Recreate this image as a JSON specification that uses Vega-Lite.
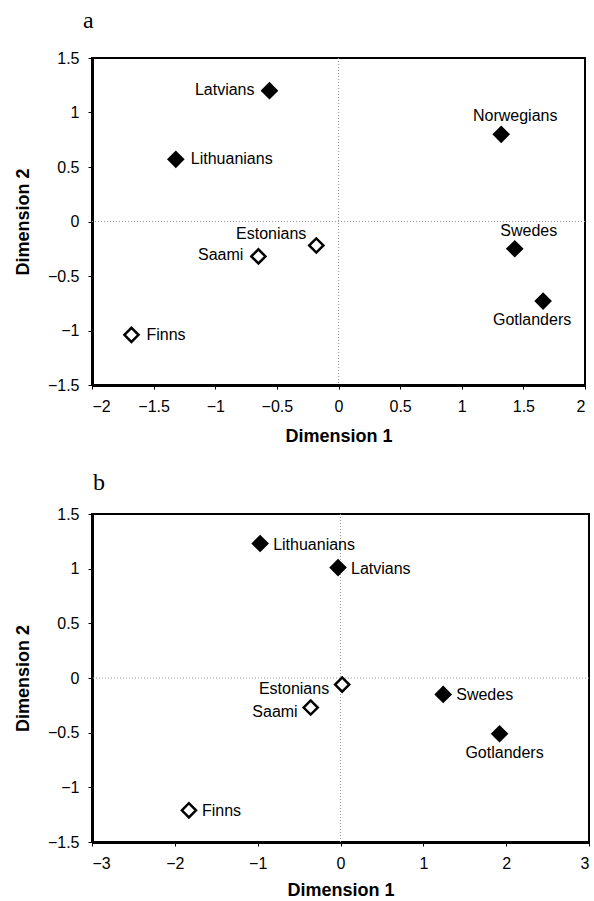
{
  "$schema": "https://vega.github.io/schema/vega-lite/v6.json",
  "padding": {"left": 13, "top": 8, "right": 0, "bottom": 0},
  "background": "white",
  "config": {
    "font": "Liberation Sans",
    "view": {"stroke": "black", "strokeWidth": 2},
    "axis": {"domainColor": "black", "domainWidth": 3, "tickColor": "black", "tickSize": 4, "tickWidth": 1, "labelFont": "Liberation Sans", "labelFontSize": 16, "labelColor": "black", "titleFont": "Liberation Sans", "titleFontSize": 18, "titleFontWeight": "bold", "titleColor": "black", "grid": false, "labelPadding": 9},
    "title": {"font": "Liberation Serif", "fontSize": 24, "fontWeight": "normal", "anchor": "start", "frame": "group", "color": "black"},
    "concat": {"spacing": 24},
    "text": {"font": "Liberation Sans", "fontSize": 16, "color": "black", "baseline": "middle"}
  },
  "datasets": {
    "a": [
      {"name": "Latvians", "d1": -0.56, "d2": 1.2, "group": "filled", "pos": "left"},
      {"name": "Lithuanians", "d1": -1.32, "d2": 0.57, "group": "filled", "pos": "right"},
      {"name": "Norwegians", "d1": 1.32, "d2": 0.8, "group": "filled", "pos": "above"},
      {"name": "Swedes", "d1": 1.43, "d2": -0.25, "group": "filled", "pos": "above"},
      {"name": "Gotlanders", "d1": 1.66, "d2": -0.73, "group": "filled", "pos": "below"},
      {"name": "Estonians", "d1": -0.18, "d2": -0.22, "group": "open", "pos": "aboveleft"},
      {"name": "Saami", "d1": -0.65, "d2": -0.32, "group": "open", "pos": "left"},
      {"name": "Finns", "d1": -1.68, "d2": -1.04, "group": "open", "pos": "right"}
    ],
    "b": [
      {"name": "Lithuanians", "d1": -0.97, "d2": 1.23, "group": "filled", "pos": "right"},
      {"name": "Latvians", "d1": -0.03, "d2": 1.01, "group": "filled", "pos": "right"},
      {"name": "Estonians", "d1": 0.02, "d2": -0.06, "group": "open", "pos": "left"},
      {"name": "Saami", "d1": -0.36, "d2": -0.27, "group": "open", "pos": "left"},
      {"name": "Swedes", "d1": 1.24, "d2": -0.15, "group": "filled", "pos": "right"},
      {"name": "Gotlanders", "d1": 1.92, "d2": -0.51, "group": "filled", "pos": "below"},
      {"name": "Finns", "d1": -1.83, "d2": -1.21, "group": "open", "pos": "right"}
    ]
  },
  "vconcat": [
    {
      "title": {"text": "a", "dx": -9, "offset": 17},
      "width": 493,
      "height": 327,
      "data": {"name": "a"},
      "layer": [
        {"data": {"values": [{}]}, "mark": {"type": "rule", "color": "#999999", "strokeDash": [1, 2], "strokeWidth": 1}, "encoding": {"x": {"datum": 0, "type": "quantitative"}}},
        {"data": {"values": [{}]}, "mark": {"type": "rule", "color": "#999999", "strokeDash": [1, 2], "strokeWidth": 1}, "encoding": {"y": {"datum": 0, "type": "quantitative"}}},
        {
          "mark": {"type": "point", "shape": "diamond", "size": 200, "strokeWidth": 2.5, "stroke": "black", "opacity": 1, "filled": true},
          "encoding": {
            "x": {"field": "d1", "type": "quantitative", "scale": {"domain": [-2, 2], "nice": false, "zero": false}, "axis": {"values": [-2, -1.5, -1, -0.5, 0, 0.5, 1, 1.5, 2], "format": "~g", "title": "Dimension 1", "titlePadding": 13}},
            "y": {"field": "d2", "type": "quantitative", "scale": {"domain": [-1.5, 1.5], "nice": false, "zero": false}, "axis": {"values": [-1.5, -1, -0.5, 0, 0.5, 1, 1.5], "format": "~g", "title": "Dimension 2", "titlePadding": 15}},
            "fill": {"field": "group", "type": "nominal", "scale": {"domain": ["filled", "open"], "range": ["black", "white"]}, "legend": null}
          }
        },
        {"transform": [{"filter": "datum.pos == 'left'"}], "mark": {"type": "text", "align": "right", "dx": -15, "dy": -1}, "encoding": {"x": {"field": "d1", "type": "quantitative"}, "y": {"field": "d2", "type": "quantitative"}, "text": {"field": "name"}}},
        {"transform": [{"filter": "datum.pos == 'right'"}], "mark": {"type": "text", "align": "left", "dx": 15}, "encoding": {"x": {"field": "d1", "type": "quantitative"}, "y": {"field": "d2", "type": "quantitative"}, "text": {"field": "name"}}},
        {"transform": [{"filter": "datum.pos == 'above'"}], "mark": {"type": "text", "align": "center", "dx": 14, "dy": -18}, "encoding": {"x": {"field": "d1", "type": "quantitative"}, "y": {"field": "d2", "type": "quantitative"}, "text": {"field": "name"}}},
        {"transform": [{"filter": "datum.pos == 'below'"}], "mark": {"type": "text", "align": "center", "dx": -11, "dy": 19}, "encoding": {"x": {"field": "d1", "type": "quantitative"}, "y": {"field": "d2", "type": "quantitative"}, "text": {"field": "name"}}},
        {"transform": [{"filter": "datum.pos == 'aboveleft'"}], "mark": {"type": "text", "align": "right", "dx": -10, "dy": -11}, "encoding": {"x": {"field": "d1", "type": "quantitative"}, "y": {"field": "d2", "type": "quantitative"}, "text": {"field": "name"}}}
      ]
    },
    {
      "title": {"text": "b", "dx": 1, "offset": 11},
      "width": 497,
      "height": 328,
      "data": {"name": "b"},
      "layer": [
        {"data": {"values": [{}]}, "mark": {"type": "rule", "color": "#999999", "strokeDash": [1, 2], "strokeWidth": 1}, "encoding": {"x": {"datum": 0, "type": "quantitative"}}},
        {"data": {"values": [{}]}, "mark": {"type": "rule", "color": "#999999", "strokeDash": [1, 2], "strokeWidth": 1}, "encoding": {"y": {"datum": 0, "type": "quantitative"}}},
        {
          "mark": {"type": "point", "shape": "diamond", "size": 200, "strokeWidth": 2.5, "stroke": "black", "opacity": 1, "filled": true},
          "encoding": {
            "x": {"field": "d1", "type": "quantitative", "scale": {"domain": [-3, 3], "nice": false, "zero": false}, "axis": {"values": [-3, -2, -1, 0, 1, 2, 3], "format": "~g", "title": "Dimension 1", "titlePadding": 10}},
            "y": {"field": "d2", "type": "quantitative", "scale": {"domain": [-1.5, 1.5], "nice": false, "zero": false}, "axis": {"values": [-1.5, -1, -0.5, 0, 0.5, 1, 1.5], "format": "~g", "title": "Dimension 2", "titlePadding": 15}},
            "fill": {"field": "group", "type": "nominal", "scale": {"domain": ["filled", "open"], "range": ["black", "white"]}, "legend": null}
          }
        },
        {"transform": [{"filter": "datum.pos == 'left'"}], "mark": {"type": "text", "align": "right", "dx": -13, "dy": 4}, "encoding": {"x": {"field": "d1", "type": "quantitative"}, "y": {"field": "d2", "type": "quantitative"}, "text": {"field": "name"}}},
        {"transform": [{"filter": "datum.pos == 'right'"}], "mark": {"type": "text", "align": "left", "dx": 13, "dy": 1}, "encoding": {"x": {"field": "d1", "type": "quantitative"}, "y": {"field": "d2", "type": "quantitative"}, "text": {"field": "name"}}},
        {"transform": [{"filter": "datum.pos == 'below'"}], "mark": {"type": "text", "align": "center", "dx": 5, "dy": 19}, "encoding": {"x": {"field": "d1", "type": "quantitative"}, "y": {"field": "d2", "type": "quantitative"}, "text": {"field": "name"}}}
      ]
    }
  ]
}
